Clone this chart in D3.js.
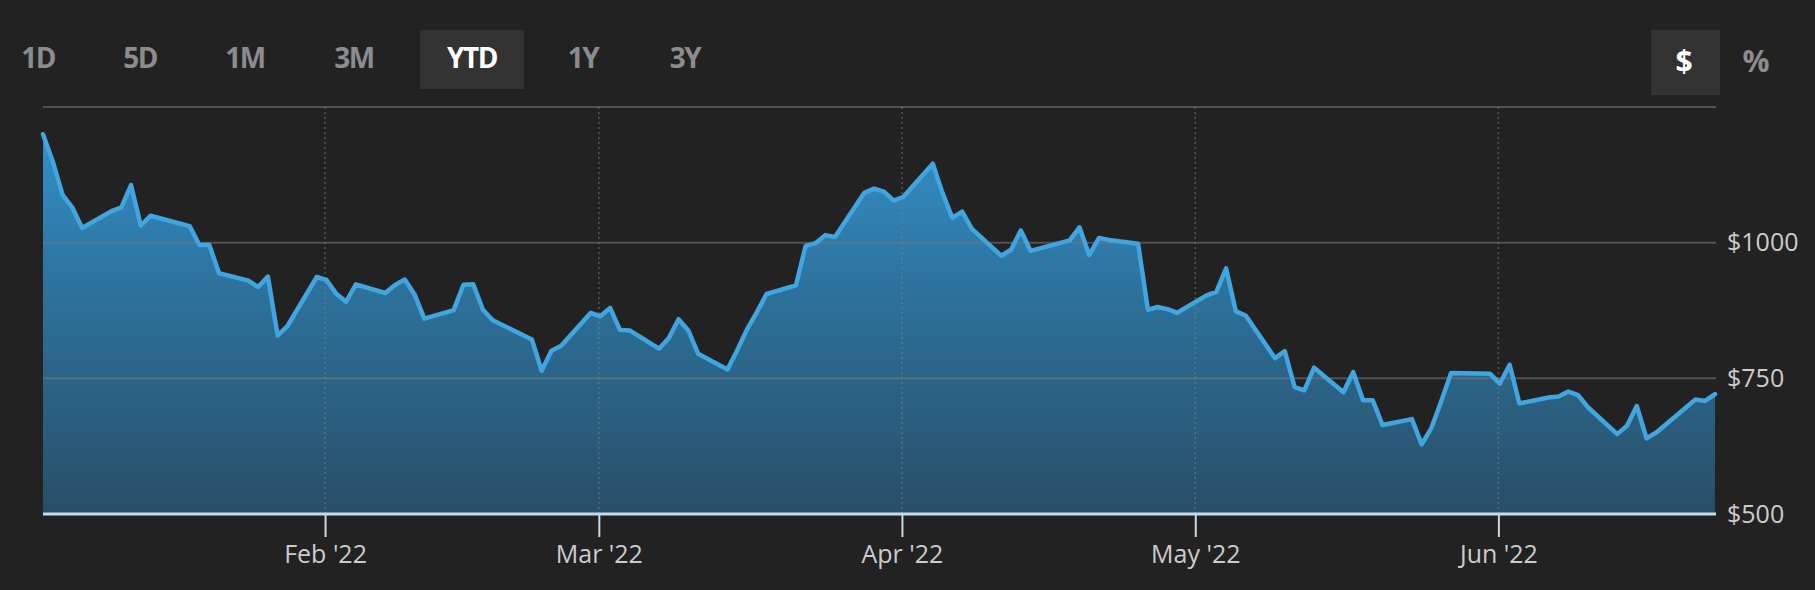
<!DOCTYPE html>
<html>
<head>
<meta charset="utf-8">
<script src="https://cdn.jsdelivr.net/npm/d3@7/dist/d3.min.js"></script>
<style>
  html, body { margin: 0; padding: 0; background: #222222; }
  svg { display: block; }
  text { font-family: "Open Sans", "Noto Sans", sans-serif; }
</style>
</head>
<body>
<svg id="chart" width="1815" height="590"></svg>
<script>
// ---- data ----
const dates = [
  "2022-01-03","2022-01-04","2022-01-05","2022-01-06","2022-01-07","2022-01-10","2022-01-11","2022-01-12","2022-01-13","2022-01-14",
  "2022-01-18","2022-01-19","2022-01-20","2022-01-21","2022-01-24","2022-01-25","2022-01-26","2022-01-27","2022-01-28","2022-01-31",
  "2022-02-01","2022-02-02","2022-02-03","2022-02-04","2022-02-07","2022-02-08","2022-02-09","2022-02-10","2022-02-11","2022-02-14",
  "2022-02-15","2022-02-16","2022-02-17","2022-02-18","2022-02-22","2022-02-23","2022-02-24","2022-02-25","2022-02-28",
  "2022-03-01","2022-03-02","2022-03-03","2022-03-04","2022-03-07","2022-03-08","2022-03-09","2022-03-10","2022-03-11","2022-03-14",
  "2022-03-15","2022-03-16","2022-03-17","2022-03-18","2022-03-21","2022-03-22","2022-03-23","2022-03-24","2022-03-25","2022-03-28",
  "2022-03-29","2022-03-30","2022-03-31",
  "2022-04-01","2022-04-04","2022-04-05","2022-04-06","2022-04-07","2022-04-08","2022-04-11","2022-04-12","2022-04-13","2022-04-14",
  "2022-04-18","2022-04-19","2022-04-20","2022-04-21","2022-04-22","2022-04-25","2022-04-26","2022-04-27","2022-04-28","2022-04-29",
  "2022-05-02","2022-05-03","2022-05-04","2022-05-05","2022-05-06","2022-05-09","2022-05-10","2022-05-11","2022-05-12","2022-05-13",
  "2022-05-16","2022-05-17","2022-05-18","2022-05-19","2022-05-20","2022-05-23","2022-05-24","2022-05-25","2022-05-26","2022-05-27",
  "2022-05-31",
  "2022-06-01","2022-06-02","2022-06-03","2022-06-06","2022-06-07","2022-06-08","2022-06-09","2022-06-10","2022-06-13","2022-06-14",
  "2022-06-15","2022-06-16","2022-06-17","2022-06-21","2022-06-22","2022-06-23"
];
const prices = [
  1199.8,1149.6,1088.1,1064.7,1027.0,1058.1,1064.4,1106.2,1031.6,1049.6,
  1030.5,995.7,996.3,943.9,930.0,918.4,937.4,829.1,846.4,936.7,
  931.3,905.7,891.1,923.3,907.3,922.0,932.0,904.6,860.0,875.8,
  922.4,923.4,876.4,857.0,821.5,764.0,800.8,809.9,870.4,
  864.4,879.9,839.3,838.3,804.6,824.4,859.0,838.3,795.4,766.4,
  801.9,840.2,871.6,905.4,921.2,994.0,999.1,1013.9,1010.6,1091.8,
  1099.6,1094.0,1077.6,
  1084.6,1145.5,1091.3,1045.8,1057.3,1025.5,975.9,987.0,1022.4,985.0,
  1004.3,1028.2,977.2,1008.8,1005.1,998.0,876.4,881.5,877.5,870.8,
  902.9,909.3,952.6,873.3,865.7,787.1,800.0,734.0,728.0,769.6,
  724.4,761.6,709.8,709.4,663.9,674.9,628.2,658.8,707.7,759.6,
  758.3,
  740.4,775.0,703.6,714.8,716.7,725.6,719.1,696.7,647.2,662.7,
  699.0,639.3,650.3,711.1,708.3,721.0
];
const monthTicks = ["2022-02-01","2022-03-01","2022-04-01","2022-05-01","2022-06-01"];
const gridValues = [750, 1000, 1250];
const yLabelValues = [500, 750, 1000];
const yLabels = ["$500", "$750", "$1000"];
const rangeButtons = ["1D","5D","1M","3M","YTD","1Y","3Y"];
const activeRange = "YTD";
const modeButtons = ["$","%"];
const activeMode = "$";

(function () {
const parse = d3.utcParse("%Y-%m-%d");
const data = dates.map((d, i) => ({ date: parse(d), value: prices[i] }));

const svg = d3.select("#chart");
const L = 43, R = 1715, T = 107, B = 514;

const x = d3.scaleUtc()
  .domain(d3.extent(data, d => d.date))
  .range([L, R]);
const y = d3.scaleLinear().domain([500, 1250]).range([B, T]);

// gradient
const defs = svg.append("defs");
const grad = defs.append("linearGradient")
  .attr("id", "areaGrad")
  .attr("gradientUnits", "userSpaceOnUse")
  .attr("x1", 0).attr("x2", 0)
  .attr("y1", y(1250)).attr("y2", y(500));
grad.append("stop").attr("offset", "0%").attr("stop-color", "#3393cf");
grad.append("stop").attr("offset", "45%").attr("stop-color", "#2d729c");
grad.append("stop").attr("offset", "100%").attr("stop-color", "#284e67");

// area
const area = d3.area()
  .x(d => x(d.date))
  .y0(y(500))
  .y1(d => y(d.value));
svg.append("path").datum(data)
  .attr("d", area)
  .attr("fill", "url(#areaGrad)");

// horizontal gridlines (on top, semi-transparent)
svg.append("g").selectAll("line").data(gridValues).join("line")
  .attr("x1", L).attr("x2", R + 1)
  .attr("y1", d => y(d)).attr("y2", d => y(d))
  .attr("stroke", "rgba(120,120,120,0.55)")
  .attr("stroke-width", 2);

// vertical dotted month lines
const monthDates = monthTicks.map(parse);
svg.append("g").selectAll("line").data(monthDates).join("line")
  .attr("x1", d => x(d) - 1.5).attr("x2", d => x(d) - 1.5)
  .attr("y1", T).attr("y2", B)
  .attr("stroke", "rgba(130,130,130,0.55)")
  .attr("stroke-width", 1.5)
  .attr("stroke-dasharray", "2,3");

// line
const line = d3.line()
  .x(d => x(d.date))
  .y(d => y(d.value));
svg.append("path").datum(data)
  .attr("d", line)
  .attr("fill", "none")
  .attr("stroke", "#41a5e0")
  .attr("stroke-width", 4.5)
  .attr("stroke-linejoin", "round")
  .attr("stroke-linecap", "round");

// x axis
const xAxis = d3.axisBottom(x)
  .tickValues(monthDates)
  .tickFormat(d3.utcFormat("%b '%y"))
  .tickSize(23)
  .tickPadding(8);
const gx = svg.append("g")
  .attr("transform", `translate(-1.5,${B})`)
  .call(xAxis);
gx.select(".domain")
  .attr("d", `M${L + 1.5},0H${R + 2.5}`)
  .attr("stroke", "#c3dbea")
  .attr("stroke-width", 3);
gx.selectAll(".tick line").attr("stroke", "#c3dbea").attr("stroke-width", 2);
gx.selectAll(".tick text")
  .attr("fill", "#cccccc")
  .attr("font-size", 25)
  .attr("font-family", "\"Open Sans\", sans-serif");

// y labels (right)
const yAxis = d3.axisRight(y)
  .tickValues(yLabelValues)
  .tickFormat((d, i) => yLabels[i])
  .tickSize(0)
  .tickPadding(11);
const gy = svg.append("g")
  .attr("transform", `translate(${R + 1},0)`)
  .call(yAxis);
gy.select(".domain").remove();
gy.selectAll(".tick text")
  .attr("fill", "#cccccc")
  .attr("font-size", 25)
  .attr("font-family", "\"Open Sans\", sans-serif");

// range buttons (layout: centers of each button)
const btnX = [38, 140, 245, 354, 472, 583, 685];
const btns = svg.append("g").selectAll("g").data(rangeButtons).join("g");
btns.filter(d => d === activeRange).append("rect")
  .attr("x", 420).attr("y", 30)
  .attr("width", 104).attr("height", 59)
  .attr("fill", "#333333");
btns.append("text")
  .attr("x", (d, i) => btnX[i])
  .attr("y", 67.5)
  .attr("text-anchor", "middle")
  .attr("font-size", 28)
  .attr("font-weight", 700)
  .attr("letter-spacing", -1.5)
  .attr("fill", d => d === activeRange ? "#ffffff" : "#8c8c8c")
  .text(d => d);

// mode buttons
const modeX = [1684, 1756];
const mb = svg.append("g").selectAll("g").data(modeButtons).join("g");
mb.filter(d => d === activeMode).append("rect")
  .attr("x", 1651).attr("y", 30)
  .attr("width", 69).attr("height", 65)
  .attr("fill", "#333333");
mb.append("text")
  .attr("x", (d, i) => modeX[i])
  .attr("y", 72)
  .attr("text-anchor", "middle")
  .attr("font-size", 30)
  .attr("font-weight", 700)
  .attr("fill", d => d === activeMode ? "#ffffff" : "#8c8c8c")
  .text(d => d);
})();
</script>
</body>
</html>
